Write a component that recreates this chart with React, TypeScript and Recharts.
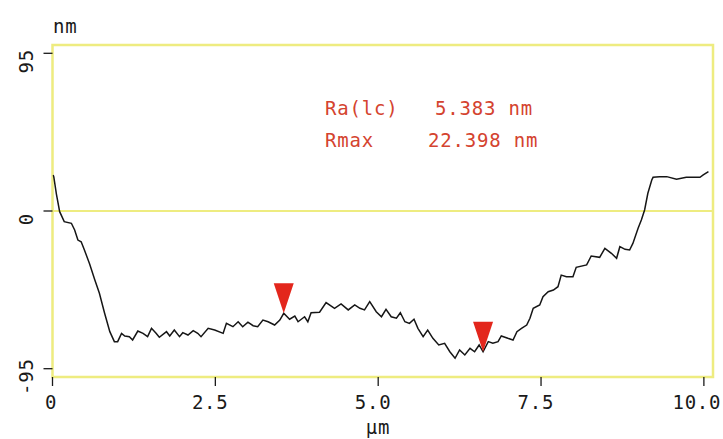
import React from "react";
import { ComposedChart, Line, XAxis, YAxis, ReferenceArea, ReferenceLine, ReferenceDot } from "recharts";

const profileX = [0.01, 0.02, 0.06, 0.11, 0.18, 0.29, 0.34, 0.39, 0.44, 0.49, 0.57, 0.65, 0.72, 0.8, 0.88, 0.95, 1.0, 1.06, 1.11, 1.18, 1.23, 1.31, 1.39, 1.46, 1.52, 1.59, 1.64, 1.75, 1.8, 1.87, 1.95, 2.0, 2.08, 2.16, 2.23, 2.28, 2.39, 2.49, 2.62, 2.67, 2.77, 2.85, 2.92, 3.0, 3.08, 3.15, 3.23, 3.31, 3.41, 3.49, 3.55, 3.64, 3.72, 3.77, 3.87, 3.92, 3.97, 4.1, 4.2, 4.33, 4.43, 4.54, 4.64, 4.72, 4.79, 4.87, 4.97, 5.05, 5.12, 5.2, 5.28, 5.34, 5.41, 5.48, 5.55, 5.61, 5.69, 5.76, 5.84, 5.93, 6.02, 6.1, 6.18, 6.25, 6.33, 6.41, 6.48, 6.55, 6.61, 6.69, 6.76, 6.84, 6.89, 6.99, 7.07, 7.13, 7.2, 7.28, 7.33, 7.38, 7.48, 7.53, 7.61, 7.69, 7.76, 7.81, 7.89, 7.99, 8.04, 8.2, 8.27, 8.4, 8.48, 8.58, 8.66, 8.71, 8.79, 8.86, 8.91, 8.99, 9.04, 9.09, 9.14, 9.2, 9.22, 9.32, 9.43, 9.58, 9.73, 9.94, 9.99, 10.07];
const profileY = [21.7, 20.5, 10.2, -0.4, -6.4, -7.4, -11.4, -17.5, -18.5, -23.5, -31.9, -41.6, -49.6, -61.6, -72.7, -78.7, -78.7, -73.7, -75.3, -75.7, -77.7, -72.3, -73.7, -75.7, -70.7, -73.7, -76.1, -72.7, -75.3, -71.7, -75.7, -73.3, -74.7, -72.1, -73.7, -75.7, -70.7, -71.7, -73.7, -67.7, -69.7, -66.7, -69.7, -67.0, -69.1, -69.7, -65.7, -66.7, -68.7, -65.7, -61.6, -65.2, -63.3, -66.7, -63.7, -66.7, -61.3, -61.0, -55.2, -58.6, -56.0, -59.6, -56.6, -58.6, -59.6, -54.6, -60.7, -63.7, -59.2, -63.7, -64.6, -61.3, -66.7, -67.7, -65.2, -70.7, -75.7, -71.7, -76.7, -80.7, -79.7, -84.8, -88.7, -83.7, -86.7, -82.7, -84.8, -80.7, -84.8, -78.7, -79.7, -78.7, -75.3, -76.7, -77.7, -72.7, -70.7, -68.7, -64.6, -58.6, -56.6, -51.6, -48.6, -47.6, -45.6, -38.6, -39.6, -39.6, -33.9, -32.5, -27.1, -27.9, -22.5, -25.5, -28.5, -21.5, -23.1, -23.5, -19.5, -10.4, -5.4, 0.6, 10.7, 18.7, 20.3, 20.7, 20.7, 19.1, 20.3, 20.3, 21.7, 23.7];

const xTicks = [0, 2.5, 5, 7.5, 10];
const xTickLabels = ["0", "2.5", "5.0", "7.5", "10.0"];
const yTicks = [-95, 0, 95];
const markerX = [3.55, 6.61];
const markerY = [-61.6, -84.8];
const statNames = ["Ra(lc)", "Rmax"];
const statValues = ["5.383 nm", "22.398 nm"];
const yUnit = "nm";
const xUnit = "μm";

const data = profileX.map((x, i) => ({ x, y: profileY[i] }));

const FONT = "'DejaVu Sans Mono', monospace";
const YELLOW = "#eeec80";
const RED = "#d4432f";

const XTick = (props: any) => {
  const { x, y, payload } = props;
  const idx = xTicks.indexOf(Number(payload.value));
  const label = idx >= 0 ? xTickLabels[idx] : String(payload.value);
  const dx = -1.9 * label.length + 0.6;
  return (
    <text x={x + dx} y={y + 21} textAnchor="middle" fontFamily={FONT} fontSize={19} letterSpacing={0.8} fill="#1a1a1a">
      {label}
    </text>
  );
};

const YTick = (props: any) => {
  const { y, payload } = props;
  const cy = y + 8;
  return (
    <text x={25} y={cy} transform={`rotate(-90 25 ${cy})`} textAnchor="middle" fontFamily={FONT} fontSize={19} letterSpacing={0.8} fill="#1a1a1a">
      {String(payload.value)}
    </text>
  );
};

const Tri = (p: any) => {
  const { cx, cy } = p;
  return <path d={`M${cx - 10},${cy - 30} L${cx + 10},${cy - 30} L${cx},${cy} Z`} fill="#e3261c" />;
};

export default function App() {
  return (
    <div style={{ position: "fixed", left: 8, top: 8, width: 715, height: 431, background: "#fff", overflow: "visible" }}>
      <ComposedChart width={715} height={431} data={data} margin={{ top: 37, right: 10, left: 4.5, bottom: 32 }} style={{ overflow: "visible" }}>
        <XAxis
          type="number"
          dataKey="x"
          domain={[0, 10.14]}
          ticks={xTicks}
          interval={0}
          axisLine={false}
          tickLine={{ stroke: "#1a1a1a", strokeWidth: 1.3 }}
          tickSize={9}
          height={30}
          tick={<XTick />}
          allowDataOverflow
        />
        <YAxis
          type="number"
          domain={[-100, 100]}
          ticks={yTicks}
          interval={0}
          axisLine={false}
          tickLine={{ stroke: "#1a1a1a", strokeWidth: 1.3 }}
          tickSize={9}
          width={40}
          tick={<YTick />}
          allowDataOverflow
        />
        <ReferenceArea x1={0} x2={10.14} y1={-100} y2={100} fill="none" stroke={YELLOW} strokeWidth={2.5} ifOverflow="visible" />
        <ReferenceLine y={0} stroke={YELLOW} strokeWidth={2} />
        <Line type="linear" dataKey="y" stroke="#161616" strokeWidth={1.5} dot={false} isAnimationActive={false} />
        {markerX.map((mx, i) => (
          <ReferenceDot key={i} x={mx} y={markerY[i]} r={10} shape={Tri} ifOverflow="visible" />
        ))}
      </ComposedChart>
      <svg width={715} height={431} style={{ position: "absolute", left: 0, top: 0, pointerEvents: "none" }}>
        <text x={45} y={25} fontFamily={FONT} fontSize={19} letterSpacing={0.8} fill="#1a1a1a">{yUnit}</text>
        <text x={370} y={426} textAnchor="middle" fontFamily={FONT} fontSize={19} letterSpacing={0.8} fill="#1a1a1a">{xUnit}</text>
        <text x={317} y={107} fontFamily={FONT} fontSize={19} letterSpacing={0.8} fill={RED}>{statNames[0]}</text>
        <text x={427} y={107} fontFamily={FONT} fontSize={19} letterSpacing={0.8} fill={RED}>{statValues[0]}</text>
        <text x={317} y={139} fontFamily={FONT} fontSize={19} letterSpacing={0.8} fill={RED}>{statNames[1]}</text>
        <text x={420} y={139} fontFamily={FONT} fontSize={19} letterSpacing={0.8} fill={RED}>{statValues[1]}</text>
      </svg>
    </div>
  );
}
